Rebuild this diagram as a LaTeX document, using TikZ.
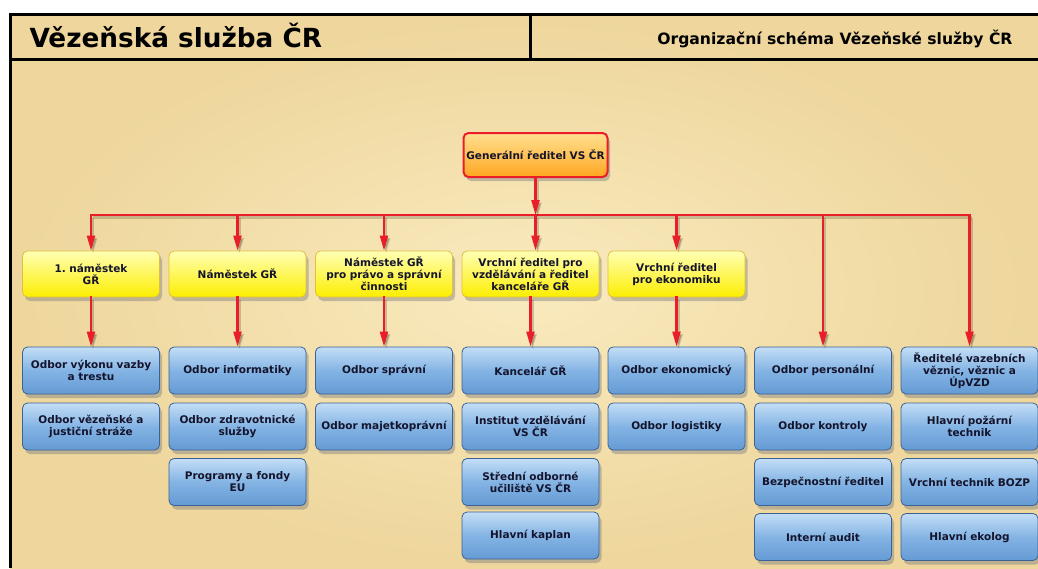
\documentclass[tikz,border=0pt]{standalone}
\usepackage{fontspec}
\setmainfont{DejaVu Sans}
\frenchspacing
\usetikzlibrary{arrows.meta,shadows}

\definecolor{parch}{RGB}{238,214,156}
\definecolor{parchlight}{RGB}{249,234,190}
\definecolor{orgred}{RGB}{234,30,40}
\definecolor{boxtext}{RGB}{20,20,44}
\definecolor{blueedge}{RGB}{58,98,148}
\definecolor{bluetop}{RGB}{196,222,246}
\definecolor{bluemid}{RGB}{132,180,228}
\definecolor{bluebot}{RGB}{100,154,212}
\definecolor{yellowtop}{RGB}{255,255,180}
\definecolor{yellowbot}{RGB}{252,238,0}
\definecolor{yellowedge}{RGB}{222,192,62}
\definecolor{orangetop}{RGB}{255,224,145}
\definecolor{orangebot}{RGB}{255,166,32}

\begin{document}
\begin{tikzpicture}[x=1pt,y=-1pt,
  every node/.style={font=\bfseries\fontsize{10.5}{12}\selectfont, text=boxtext, align=center},
  orgbox/.style={rounded corners=5pt, minimum width=137pt, minimum height=47pt,
    text width=133pt, inner sep=2pt,
    drop shadow={shadow xshift=2.5pt, shadow yshift=-4pt, opacity=0.45}},
  topbox/.style={orgbox, draw=orgred, line width=2pt, top color=orangetop,
    bottom color=orangebot, minimum width=144pt, minimum height=44pt, text width=140pt},
  deputybox/.style={orgbox, draw=yellowedge, line width=0.8pt, minimum height=46pt,
    top color=yellowtop, bottom color=yellowbot},
  deptbox/.style={orgbox, draw=blueedge, line width=0.8pt,
    top color=bluetop, bottom color=bluebot, middle color=bluemid},
  link/.style={draw=orgred, line width=2.2pt, line cap=rect,
    preaction={draw=black, opacity=0.18, line width=2.2pt,
      transform canvas={xshift=2pt, yshift=-2.5pt}}},
  linkarrow/.style={link, -{Triangle[length=15pt,width=8pt]}}
]

% page and parchment
\useasboundingbox (0,0) rectangle (1038,568);
\fill[white] (0,0) rectangle (1038,568);
\shade[inner color=parchlight, outer color=parch] (10,14) rectangle (1038,568);

% header frame
\draw[line width=3pt] (1038,14) -- (10,14) -- (10,568);
\draw[line width=3pt] (10,59) -- (1038,59);
\draw[line width=3pt] (530,14) -- (530,59);
\node[anchor=base west, text=black, font=\bfseries\fontsize{26.3}{30}\selectfont]
  (title) at (26,47) {Vězeňská služba ČR};
\node[anchor=base east, text=black, font=\bfseries\fontsize{15.6}{18}\selectfont]
  (subtitle) at (1016,44) {Organizační schéma Vězeňské služby ČR};

% director general
\node[topbox] (gr) at (535.5,155) {Generální ředitel VS ČR};

% deputies
\node[deputybox] (nam1) at (91,274) {1. náměstek\\GŘ};
\node[deputybox] (namgr) at (237.5,274) {Náměstek GŘ};
\node[deputybox] (nampravo) at (384,274) {Náměstek GŘ\\pro právo a správní\\činnosti};
\node[deputybox] (vrvzdel) at (530.5,274) {Vrchní ředitel pro\\vzdělávání a ředitel\\kanceláře GŘ};
\node[deputybox] (vrekon) at (676.5,274) {Vrchní ředitel\\pro ekonomiku};

% departments, column 1
\node[deptbox] (vykon) at (91,370.5) {Odbor výkonu vazby\\a trestu};
\node[deptbox] (straz) at (91,426.5) {Odbor vězeňské a\\justiční stráže};

% column 2
\node[deptbox] (inform) at (237.5,370.5) {Odbor informatiky};
\node[deptbox] (zdrav) at (237.5,426.5) {Odbor zdravotnické\\služby};
\node[deptbox] (fondy) at (237.5,482) {Programy a fondy\\EU};

% column 3
\node[deptbox] (sprav) at (384,370.5) {Odbor správní};
\node[deptbox] (majetek) at (384,426.5) {Odbor majetkoprávní};

% column 4
\node[deptbox] (kancel) at (530.5,370.5) {Kancelář GŘ};
\node[deptbox] (institut) at (530.5,426.5) {Institut vzdělávání\\VS ČR};
\node[deptbox] (uciliste) at (530.5,482) {Střední odborné\\učiliště VS ČR};
\node[deptbox] (kaplan) at (530.5,535.5) {Hlavní kaplan};

% column 5
\node[deptbox] (ekon) at (676.5,370.5) {Odbor ekonomický};
\node[deptbox] (logist) at (676.5,426.5) {Odbor logistiky};

% column 6
\node[deptbox] (person) at (823,370.5) {Odbor personální};
\node[deptbox] (kontrol) at (823,426.5) {Odbor kontroly};
\node[deptbox] (bezpec) at (823,482) {Bezpečnostní ředitel};
\node[deptbox] (audit) at (823,537) {Interní audit};

% column 7
\node[deptbox] (vezeni) at (969.5,370.5) {Ředitelé vazebních\\věznic, věznic a\\ÚpVZD};
\node[deptbox] (pozar) at (969.5,426.5) {Hlavní požární\\technik};
\node[deptbox] (bozp) at (969.5,482) {Vrchní technik BOZP};
\node[deptbox] (ekolog) at (969.5,537) {Hlavní ekolog};

% red bus below the director
\coordinate (bus) at (535.5,215);
\draw[link] (nam1.north |- bus) -- (vezeni.north |- bus);
\draw[linkarrow] (gr.south) -- (bus);

% bus to deputies and direct reports
\draw[linkarrow] (nam1.north |- bus) -- (nam1.north);
\draw[linkarrow] (namgr.north |- bus) -- (namgr.north);
\draw[linkarrow] (nampravo.north |- bus) -- (nampravo.north);
\draw[linkarrow] (bus) -- (bus |- vrvzdel.north);
\draw[linkarrow] (vrekon.north |- bus) -- (vrekon.north);
\draw[linkarrow] (person.north |- bus) -- (person.north);
\draw[linkarrow] (vezeni.north |- bus) -- (vezeni.north);

% deputies to their first department
\draw[linkarrow] (nam1.south) -- (vykon.north);
\draw[linkarrow] (namgr.south) -- (inform.north);
\draw[linkarrow] (nampravo.south) -- (sprav.north);
\draw[linkarrow] (vrvzdel.south) -- (kancel.north);
\draw[linkarrow] (vrekon.south) -- (ekon.north);

\end{tikzpicture}
\end{document}
